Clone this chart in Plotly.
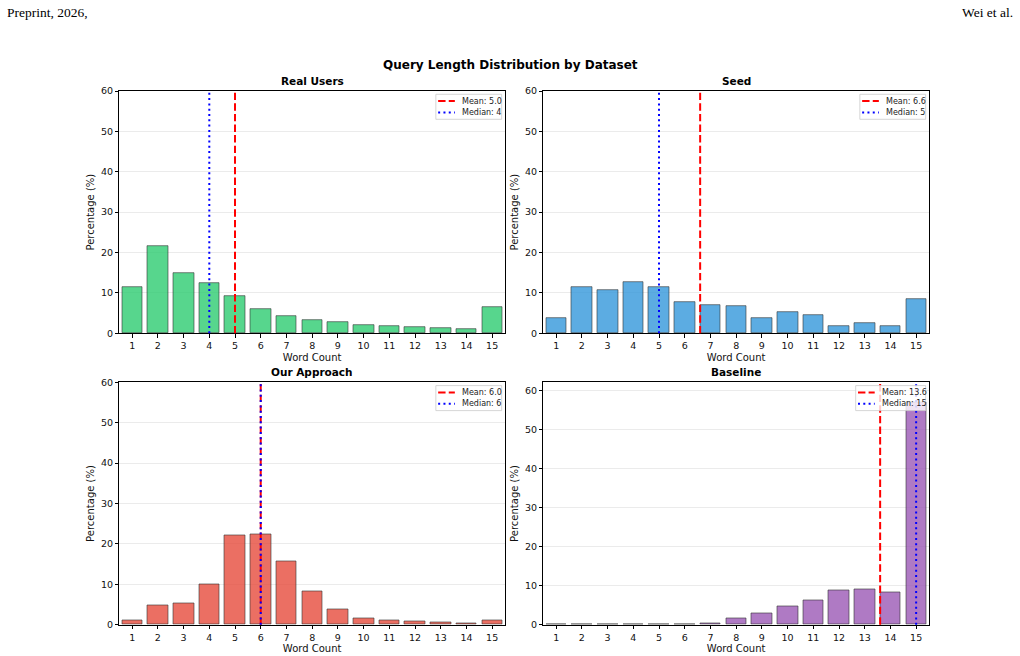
import plotly.graph_objects as go

# ---------------- data ----------------
word_counts = list(range(1, 16))
panel_titles = ["Real Users", "Seed", "Our Approach", "Baseline"]
real_users = [11.4, 21.6, 14.9, 12.4, 9.2, 5.9, 4.2, 3.2, 2.7, 2.0, 1.8, 1.6, 1.25, 1.15, 6.5]
seed = [3.8, 11.4, 10.8, 12.8, 11.4, 7.8, 6.9, 6.7, 3.8, 5.2, 4.5, 1.7, 2.6, 1.7, 8.6]
our_approach = [1.1, 4.8, 5.2, 9.9, 22.1, 22.4, 15.7, 8.3, 3.9, 1.6, 1.1, 0.9, 0.6, 0.35, 1.1]
baseline = [0.0, 0.0, 0.0, 0.0, 0.0, 0.1, 0.35, 1.6, 2.8, 4.7, 6.2, 8.8, 9.05, 8.4, 57.0]
means = [5.0, 6.6, 6.0, 13.6]
medians = [4, 5, 6, 15]
y_tops = [60, 60, 60, 62.1]
series = [real_users, seed, our_approach, baseline]
colors = ["#2ecc71", "#3498db", "#e74c3c", "#9b59b6"]

W, H = 1020, 656
# pixel boxes of the four axes: (left, right, top, bottom)
boxes = [
    (119.3, 505.0, 91.0, 333.3),
    (543.3, 929.0, 91.0, 333.3),
    (119.3, 505.0, 382.3, 624.7),
    (543.3, 929.0, 382.3, 624.7),
]

def px(x):
    return x / W

def py(y):
    return 1 - y / H

fig = go.Figure()
shapes = []
annotations = []
layout_axes = {}

font_main = "DejaVu Sans"
for i in range(4):
    xa = "x" if i == 0 else f"x{i+1}"
    ya = "y" if i == 0 else f"y{i+1}"
    xkey = "xaxis" if i == 0 else f"xaxis{i+1}"
    ykey = "yaxis" if i == 0 else f"yaxis{i+1}"
    L, R, T, B = boxes[i]

    fig.add_trace(go.Bar(
        x=word_counts, y=series[i], width=0.8,
        marker=dict(color=colors[i], opacity=0.8,
                    line=dict(color="black", width=0.6)),
        xaxis=xa, yaxis=ya, showlegend=False, hoverinfo="x+y",
    ))

    layout_axes[xkey] = dict(
        domain=[px(L), px(R)], anchor=ya, range=[0.5, 15.5], automargin=False,
        tickmode="array", tickvals=word_counts, ticktext=[str(v) for v in word_counts],
        ticks="outside", ticklen=3.5, tickwidth=0.8, tickcolor="black",
        showline=True, mirror=True, linecolor="black", linewidth=0.8,
        showgrid=False, zeroline=False,
        tickfont=dict(size=9.5, color="#111", family=font_main),
        title=dict(text="Word Count", font=dict(size=10, color="#111", family=font_main), standoff=3),
    )
    layout_axes[ykey] = dict(
        domain=[py(B), py(T)], anchor=xa, range=[0, y_tops[i]], automargin=False,
        tickmode="linear", tick0=0, dtick=10,
        ticks="outside", ticklen=3.5, tickwidth=0.8, tickcolor="black",
        showline=True, mirror=True, linecolor="black", linewidth=0.8,
        showgrid=True, gridcolor="#ebebeb", gridwidth=0.8, zeroline=False,
        tickfont=dict(size=9.5, color="#111", family=font_main),
        title=dict(text="Percentage (%)", font=dict(size=10, color="#111", family=font_main), standoff=4),
    )

    # mean / median vertical lines
    shapes.append(dict(type="line", xref=xa, yref=f"{ya} domain",
                       x0=means[i], x1=means[i], y0=0, y1=1,
                       line=dict(color="#ff0000", width=2, dash="7.4px,3.2px")))
    shapes.append(dict(type="line", xref=xa, yref=f"{ya} domain",
                       x0=medians[i], x1=medians[i], y0=0, y1=1,
                       line=dict(color="#0000ff", width=2, dash="2px,3.3px")))

    # subplot title
    annotations.append(dict(text=f"<b>{panel_titles[i]}</b>", xref="paper", yref="paper",
                            x=px((L + R) / 2), y=py(T - 2), xanchor="center", yanchor="bottom",
                            showarrow=False, font=dict(size=10.5, color="black", family=font_main)))

    # legend (drawn manually to mimic the compact matplotlib legend)
    mean_txt = f"Mean: {means[i]:.1f}"
    med_txt = f"Median: {medians[i]}"
    text_w = 4.15 * max(len(mean_txt), len(med_txt))
    bw = 24.5 + text_w + 4
    bR = R - 3.3
    bL = bR - bw
    bT = T + 3.3
    bB = bT + 25
    shapes.append(dict(type="rect", xref="paper", yref="paper",
                       x0=px(bL), x1=px(bR), y0=py(bB), y1=py(bT),
                       fillcolor="rgba(255,255,255,0.8)",
                       line=dict(color="#cccccc", width=0.8)))
    for row, (txt, col, dash) in enumerate([(mean_txt, "#ff0000", "7.4px,3.2px"),
                                            (med_txt, "#0000ff", "2px,3.3px")]):
        yy = bT + 6.8 + row * 11.3
        shapes.append(dict(type="line", xref="paper", yref="paper",
                           x0=px(bL + 2.3), x1=px(bL + 19), y0=py(yy), y1=py(yy),
                           line=dict(color=col, width=2, dash=dash)))
        annotations.append(dict(text=txt, xref="paper", yref="paper",
                                x=px(bL + 24.5), y=py(yy), xanchor="left", yanchor="middle",
                                showarrow=False, font=dict(size=8, color="#222", family=font_main)))

# page header and figure title
annotations.append(dict(text="Preprint, 2026,", xref="paper", yref="paper", x=px(5), y=py(12.5),
                        xanchor="left", yanchor="middle", showarrow=False,
                        font=dict(size=13.5, color="black", family="Liberation Serif")))
annotations.append(dict(text="Wei et al.", xref="paper", yref="paper", x=px(1015), y=py(12.5),
                        xanchor="right", yanchor="middle", showarrow=False,
                        font=dict(size=13.5, color="black", family="Liberation Serif")))
annotations.append(dict(text="<b>Query Length Distribution by Dataset</b>", xref="paper", yref="paper",
                        x=px(510), y=py(65), xanchor="center", yanchor="middle", showarrow=False,
                        font=dict(size=12, color="black", family=font_main)))

fig.update_layout(
    width=W, height=H, margin=dict(l=0, r=0, t=0, b=0, autoexpand=False),
    paper_bgcolor="white", plot_bgcolor="white",
    font=dict(family=font_main, color="black"),
    shapes=shapes, annotations=annotations, showlegend=False,
    bargap=0, **layout_axes,
)

fig.write_html("out.html")
